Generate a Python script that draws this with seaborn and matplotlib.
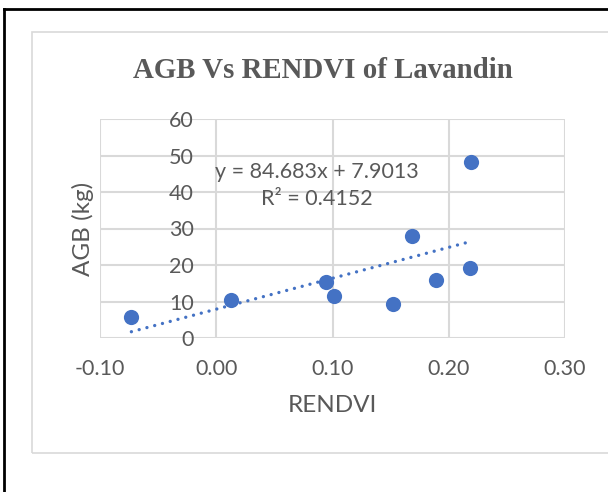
import matplotlib
matplotlib.use("Agg")
import matplotlib.pyplot as plt
from matplotlib.lines import Line2D
from matplotlib.patches import Rectangle
import numpy as np
import seaborn as sns

# Observations: red-edge NDVI against above-ground biomass
rendvi = [-0.073, 0.013, 0.094, 0.101, 0.152, 0.168, 0.189, 0.218, 0.219]
agb_kg = [5.7, 10.3, 15.4, 11.5, 9.4, 27.9, 15.8, 19.3, 48.1]

# Linear trend reported for the series
slope = 84.683
intercept = 7.9013
r_squared = 0.4152

x_ticks = [-0.10, 0.00, 0.10, 0.20, 0.30]
y_ticks = [0, 10, 20, 30, 40, 50, 60]

title = "AGB Vs RENDVI of Lavandin"
x_label = "RENDVI"
y_label = "AGB (kg)"

sns.set_theme(style="white")
plt.rcParams["font.family"] = ["Lato", "DejaVu Sans"]

TEXT = "#595959"
GRID = "#d9d9d9"
BLUE = "#4472C4"

W, H = 608, 492
fig = plt.figure(figsize=(W / 100, H / 100), dpi=100)
fig.patch.set_facecolor("white")

# outer frame (black) and chart area frame (light grey)
fig.add_artist(Line2D([4 / W, 4 / W], [0, 1 - 9 / H], color="black", lw=2.0,
                      transform=fig.transFigure, solid_capstyle="projecting"))
fig.add_artist(Line2D([4 / W, 1.01], [1 - 9 / H, 1 - 9 / H], color="black", lw=2.0,
                      transform=fig.transFigure, solid_capstyle="projecting"))
fig.add_artist(Rectangle((32 / W, 1 - 453 / H), 1.0, (453 - 32) / H,
                         transform=fig.transFigure, fill=False,
                         edgecolor=GRID, lw=1.2))

left, right, top, bottom = 100, 565, 119, 338
ax = fig.add_axes([left / W, 1 - bottom / H, (right - left) / W, (bottom - top) / H])
ax.set_facecolor("white")

ax.set_xlim(x_ticks[0], x_ticks[-1])
ax.set_ylim(y_ticks[0], y_ticks[-1])
ax.set_xticks(x_ticks)
ax.set_yticks(y_ticks)
ax.set_xticklabels([f"{v:.2f}" for v in x_ticks])
ax.set_yticklabels([str(v) for v in y_ticks])

ax.grid(True, color=GRID, lw=1.5)
ax.set_axisbelow(True)
for s in ax.spines.values():
    s.set_visible(False)
ax.spines["left"].set_position(("data", 0))

ax.tick_params(axis="both", length=0, labelsize=15.5, labelcolor=TEXT)
ax.tick_params(axis="y", pad=16)
ax.tick_params(axis="x", pad=15)

# dotted linear trend across the observed range
xt = np.array([min(rendvi), max(rendvi)])
yt = slope * xt + intercept
sns.lineplot(x=xt, y=yt, ax=ax, color=BLUE, lw=2.4,
             linestyle=(0, (0.01, 2.4)), dash_capstyle="round", zorder=2)

sns.scatterplot(x=rendvi, y=agb_kg, ax=ax, color=BLUE, s=120,
                edgecolor=BLUE, linewidth=0, zorder=3)

ax.text(0.4656, 0.758, f"y = {slope}x + {intercept}", transform=ax.transAxes,
        ha="center", va="center", fontsize=15.5, color=TEXT)
ax.text(0.4656, 0.635, f"R² = {r_squared}", transform=ax.transAxes,
        ha="center", va="center", fontsize=15.5, color=TEXT)

ax.set_xlabel(x_label, fontsize=17.5, color=TEXT)
ax.set_ylabel(y_label, fontsize=17.5, color=TEXT)
ax.xaxis.set_label_coords(0.5, (bottom - 405) / (bottom - top))
ax.yaxis.set_label_coords((83 - left) / (right - left), 0.5)
ax.xaxis.label.set_va("center")
ax.yaxis.label.set_va("center")

fig.text(323 / W, 1 - 70 / H, title, ha="center", va="center",
         fontsize=20.8, fontweight="bold", color=TEXT,
         family=["Liberation Serif", "DejaVu Serif"])

fig.savefig("out.png", dpi=100, facecolor="white")
